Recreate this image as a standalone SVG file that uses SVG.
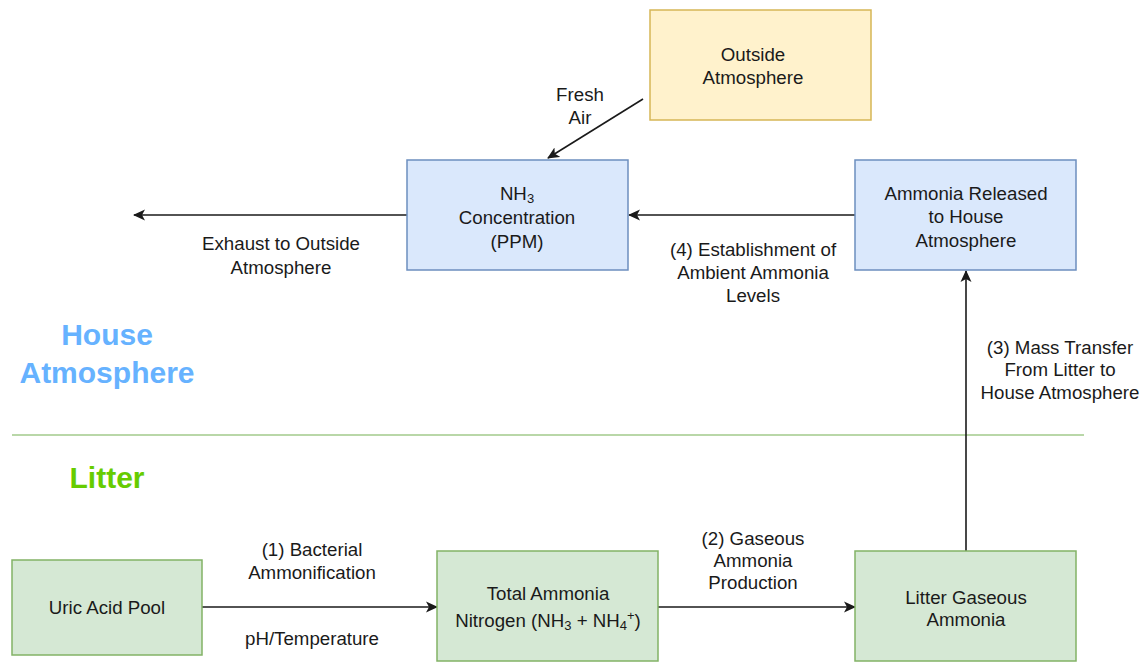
<svg xmlns="http://www.w3.org/2000/svg" width="1147" height="662" viewBox="0 0 1147 662">
<style>
text{font-family:"Liberation Sans",Arial,sans-serif;font-size:18.7px;fill:#1a1a1a;text-anchor:middle}
.blue rect{fill:#dae8fc;stroke:#6c8ebf;stroke-width:1.5}
.green rect{fill:#d5e8d4;stroke:#82b366;stroke-width:1.5}
.yellow rect{fill:#fff2cc;stroke:#d6b656;stroke-width:1.5}
.edge{stroke:#1a1a1a;stroke-width:1.6;fill:none;marker-end:url(#arr)}
.head{font-weight:bold;font-size:30px}
.sub{font-size:13px}
</style>
<defs>
<marker id="arr" viewBox="0 0 12 12" refX="11" refY="6" markerWidth="12" markerHeight="12" markerUnits="userSpaceOnUse" orient="auto">
<path d="M0,0.5 L12,6 L0,11.5 L3,6 Z" fill="#1a1a1a"/>
</marker>
</defs>
<rect width="1147" height="662" fill="#fff"/>
<line x1="12" y1="435" x2="1084" y2="435" stroke="#b9d7a8" stroke-width="2"/>
<text class="head" x="107" y="345" style="fill:#66b2ff">House</text>
<text class="head" x="107" y="383" style="fill:#66b2ff">Atmosphere</text>
<text class="head" x="107" y="488" style="fill:#66cc00">Litter</text>

<g id="connectors">
<line class="edge" x1="643" y1="99" x2="548" y2="158"/>
<line class="edge" x1="407" y1="215" x2="134" y2="215"/>
<line class="edge" x1="855" y1="215" x2="629" y2="215"/>
<line class="edge" x1="966" y1="551" x2="966" y2="271"/>
<line class="edge" x1="202" y1="607" x2="437" y2="607"/>
<line class="edge" x1="658" y1="607" x2="855" y2="607"/>
<text x="580" y="101">Fresh</text>
<text x="580" y="124">Air</text>
<text x="281" y="250">Exhaust to Outside</text>
<text x="281" y="274">Atmosphere</text>
<text x="753" y="256">(4) Establishment of</text>
<text x="753" y="279">Ambient Ammonia</text>
<text x="753" y="302">Levels</text>
<text x="1060" y="354">(3) Mass Transfer</text>
<text x="1060" y="376">From Litter to</text>
<text x="1060" y="399">House Atmosphere</text>
<text x="312" y="556">(1) Bacterial</text>
<text x="312" y="579">Ammonification</text>
<text x="312" y="645">pH/Temperature</text>
<text x="753" y="545">(2) Gaseous</text>
<text x="753" y="567">Ammonia</text>
<text x="753" y="589">Production</text>
</g>

<g id="outside" class="yellow">
<rect x="650" y="10" width="221" height="110"/>
<text x="753" y="61">Outside</text>
<text x="753" y="84">Atmosphere</text>
</g>
<g id="nh3" class="blue">
<rect x="407" y="160" width="221" height="110"/>
<text x="517" y="200">NH<tspan class="sub" dy="3">3</tspan></text>
<text x="517" y="224">Concentration</text>
<text x="517" y="248">(PPM)</text>
</g>
<g id="released" class="blue">
<rect x="855" y="160" width="221" height="110"/>
<text x="966" y="200">Ammonia Released</text>
<text x="966" y="223">to House</text>
<text x="966" y="247">Atmosphere</text>
</g>
<g id="uric" class="green">
<rect x="12" y="560" width="190" height="95"/>
<text x="107" y="614">Uric Acid Pool</text>
</g>
<g id="tan" class="green">
<rect x="437" y="551" width="221" height="110"/>
<text x="548" y="600">Total Ammonia</text>
<text x="548" y="627">Nitrogen (NH<tspan class="sub" dy="3">3</tspan><tspan dy="-3"> + NH</tspan><tspan class="sub" dy="3">4</tspan><tspan class="sub" dy="-10">+</tspan><tspan dy="7">)</tspan></text>
</g>
<g id="gaseous" class="green">
<rect x="855" y="551" width="221" height="110"/>
<text x="966" y="604">Litter Gaseous</text>
<text x="966" y="626">Ammonia</text>
</g>
</svg>
